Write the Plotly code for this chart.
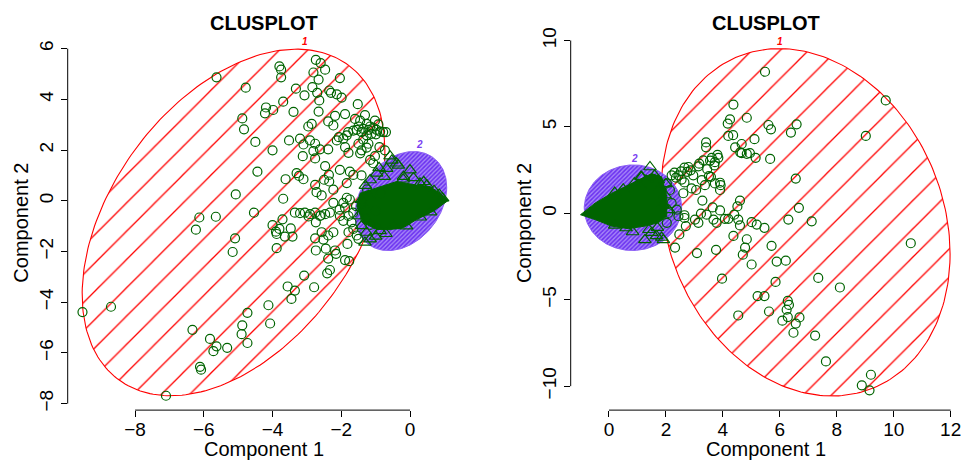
import numpy as np
import plotly.graph_objects as go

# ---------------- data: left panel ----------------
left_circle_x = [-5.63,-4.78,-3.80,-3.75,-3.75,-3.32,-2.74,-2.60,-2.47,-2.81,-2.66,-2.04,-3.07,-2.84,-2.70,-2.64,-2.35,-2.30,-2.13,-1.99,
                 -3.69,-3.39,-2.66,-4.19,-4.22,-3.98,-4.88,-4.83,-4.50,-4.00,-1.52,-2.38,-2.23,-2.18,-1.89,-2.96,-2.86,-3.52,-3.20,-3.10,
                 -2.91,-2.76,-2.81,-2.62,-2.38,-2.13,-2.07,-1.94,-1.84,-1.80,-1.65,-1.55,-1.60,-1.45,-1.31,-1.26,-1.16,-1.07,-0.97,-0.87,
                 -0.78,-0.70,-1.41,-1.26,-1.12,-0.99,-1.50,-1.36,-1.21,-1.02,-0.92,-0.73,-0.89,-1.02,-1.26,-1.45,-1.79,-1.89,-2.04,-1.75,
                 -1.65,-1.41,-1.84,-1.16,-1.07,-3.30,-3.23,-3.10,-4.44,-3.62,-2.47,-2.76,-3.12,-2.76,-2.72,-2.57,-2.50,-2.36,-2.35,-2.23,
                 -3.69,-5.07,-6.13,-6.23,-5.65,-4.54,-5.09,-5.16,-4.00,-3.90,-3.80,-3.88,-3.64,-3.47,-3.42,-3.88,-3.71,-3.35,-3.20,-3.06,
                 -2.91,-2.76,-2.62,-2.47,-2.33,-2.23,-2.74,-2.57,-2.38,-2.23,-2.76,-2.52,-2.74,-2.45,-2.18,-2.15,-2.38,-1.82,-1.89,-1.77,
                 -2.33,-2.41,-3.08,-3.56,-3.35,-3.45,-2.79,-4.12,-4.07,-4.73,-4.88,-4.90,-4.73,-6.33,-5.82,-5.63,-5.72,-5.32,-6.11,-6.08,
                 -7.10,-9.53,-8.70,-2.04,-1.94,-1.79,-1.70,-1.65,-1.79,-1.94,-1.84,-1.75,-1.89,-1.57,-1.65,-1.55,-1.50,-1.41,-1.21,-1.36,
                 -1.50,-2.95,-2.60,-2.05,-1.30,-1.15,-1.00,-0.85,-1.25,-1.40]
left_circle_y = [4.87,4.46,5.30,5.17,4.87,4.42,5.56,5.43,5.17,5.06,4.78,4.84,4.16,4.48,4.26,3.96,4.35,4.26,4.20,4.07,
                 3.91,3.51,3.52,3.68,3.45,3.58,3.25,2.82,2.32,1.99,3.81,3.13,2.97,3.35,3.42,2.93,3.03,2.38,2.45,2.22,
                 2.38,2.25,1.96,2.03,2.03,2.38,2.51,2.45,2.58,2.71,2.77,2.80,3.23,3.16,3.38,3.03,2.93,2.88,2.80,2.73,
                 2.71,2.71,2.71,2.58,2.64,2.62,2.93,2.84,2.80,3.16,3.01,1.99,2.12,1.76,2.10,1.87,1.89,2.12,1.22,1.15,
                 1.02,1.00,0.70,1.61,1.48,1.09,0.98,0.85,1.15,0.85,1.37,1.67,1.76,0.63,0.34,0.21,0.83,1.02,0.76,0.44,
                 0.08,0.25,-0.66,-1.14,-0.63,-0.47,-1.48,-2.02,-0.96,-1.22,-1.11,-1.31,-1.41,-1.09,-1.41,-1.87,-0.73,-0.47,-0.49,-0.47,
                 -0.53,-0.47,-0.60,-0.53,-0.47,-0.08,-0.85,-1.24,-1.37,-1.24,-1.48,-1.53,-1.96,-1.89,-1.96,-2.09,-2.28,-1.70,-2.34,-2.38,
                 -2.73,-2.86,-2.95,-3.38,-3.54,-3.87,-3.41,-4.12,-4.84,-4.42,-4.91,-5.26,-5.61,-5.09,-5.45,-5.74,-5.93,-5.80,-6.55,-6.66,
                 -7.69,-4.39,-4.18,-0.60,-0.79,-0.60,-0.85,-1.11,-1.24,-0.08,0.12,0.05,-0.27,-0.21,-0.47,-1.37,-1.50,1.99,2.25,2.41,
                 2.25,-0.62,-0.58,-0.35,-0.70,-0.95,-0.40,0.30,0.45,-0.10]

left_tri_x = [-0.53,-0.34,0.00,-0.68,-0.97,-1.16,-1.30,-1.41,-1.50,-1.41,-1.27,-1.16,-1.31,-0.87,-0.49,0.29,0.49,-0.19,-0.58,-0.39,
              0.10,0.70,0.85,0.60,0.30,-0.10,-0.70,-1.00,-1.20,-1.30,-0.90,-0.75,0.95,0.40,-0.20]
left_tri_y = [1.59,1.40,1.21,1.27,1.08,0.82,0.60,0.04,-0.60,-0.99,-1.25,-1.51,-1.64,-1.19,-0.99,0.69,0.62,0.95,1.76,1.48,
              0.90,0.40,0.25,-0.45,-0.65,-1.00,-1.30,-1.40,0.20,-0.30,1.30,0.95,0.10,0.75,0.85]

# dense mass of overlapping triangles (outline of the solid region)
left_core_x = [1.12,0.87,0.58,0.19,-0.39,-0.87,-1.16,-1.45,-1.55,-1.36,-0.97,-0.58,-0.19,0.19,0.68,1.12]
left_core_y = [0.02,0.30,0.56,0.62,0.76,0.56,0.43,0.30,-0.22,-0.87,-1.13,-1.13,-1.06,-0.74,-0.41,0.02]

# ---------------- data: right panel ----------------
right_circle_x = [5.48,9.72,4.37,4.25,4.17,4.84,5.60,5.69,6.59,6.39,9.02,4.19,4.36,5.11,4.66,4.43,4.61,4.66,4.84,4.95,
                  5.15,5.66,3.41,3.41,3.81,3.84,3.72,3.61,3.70,3.31,3.17,3.14,2.79,2.87,2.96,2.65,2.53,2.44,2.35,2.20,
                  2.65,2.61,3.06,3.28,3.51,3.58,3.90,3.92,3.90,6.56,4.60,4.51,6.67,3.64,3.90,3.23,3.43,2.65,2.65,3.02,
                  3.14,2.70,2.47,2.32,3.67,3.78,4.07,4.19,4.40,4.54,4.60,5.01,5.19,5.46,6.30,7.12,4.37,4.84,4.78,4.70,
                  3.76,3.09,5.71,5.89,6.21,5.01,5.85,3.97,7.35,8.11,10.60,5.22,5.46,4.54,5.62,6.28,6.32,6.24,6.28,6.09,
                  6.69,6.56,6.48,7.24,7.62,8.88,9.15,9.20,2.03,2.14,2.38,2.20,2.08,2.03,2.44,3.26,3.37,3.72,2.90,2.30,
                  2.55,2.75,3.45,3.55]
right_circle_y = [8.19,6.53,6.29,5.43,5.19,5.53,5.11,4.86,5.15,4.67,4.48,4.48,4.52,4.29,4.01,3.82,3.53,3.48,3.44,3.48,
                  3.21,3.15,4.10,3.82,3.38,3.21,2.96,3.21,2.77,3.06,2.87,2.72,2.68,2.49,2.20,2.64,2.43,2.20,2.07,2.20,
                  1.79,1.16,1.35,0.74,2.15,2.11,1.77,1.63,1.35,2.01,0.74,0.40,0.32,0.34,0.17,-0.02,-0.08,-0.11,-0.27,-0.36,
                  -0.55,-0.74,-1.22,-1.98,-0.36,-0.55,-0.32,-0.32,-0.08,-0.36,-0.70,-0.51,-0.65,-0.84,-0.36,-0.46,-1.31,-1.50,-1.98,-2.39,
                  -2.11,-2.30,-1.88,-2.79,-2.74,-2.96,-3.97,-3.78,-3.74,-4.29,-1.73,-4.79,-4.79,-5.91,-5.68,-5.07,-5.30,-5.58,-6.00,-6.21,
                  -6.02,-6.38,-6.91,-7.07,-8.57,-9.95,-10.24,-9.34,1.73,1.35,0.21,0.59,0.02,-0.55,-0.17,1.92,1.63,1.73,1.44,2.35,
                  1.95,2.40,2.55,3.05]

right_tri_x = [1.44,1.12,0.89,1.15,0.83,1.26,1.50,1.70,1.85,1.91,1.67,1.97,1.73,0.50,0.20,1.90,2.10,1.80,2.00,1.60,
               1.30,0.60,0.20,1.40,1.10]
right_tri_y = [2.68,2.12,1.74,2.11,-1.08,-1.54,-1.12,-0.83,-1.40,-1.54,-1.31,1.06,1.92,1.40,1.20,0.50,0.20,1.50,1.70,2.20,
               1.90,-0.85,-0.70,-0.95,1.60]

right_core_x = [-1.00,-0.49,0.09,0.68,1.15,1.50,1.85,2.03,2.03,1.73,1.26,0.68,0.09,-0.49,-1.00]
right_core_y = [-0.08,0.59,1.16,1.63,2.01,2.30,2.11,0.97,-0.17,-0.55,-0.74,-0.89,-0.74,-0.36,-0.08]

# ellipse parameters: centre x, centre y, var x, cov xy, var y
left_ell = {"1": (-5.135, -0.855, 19.40, 12.5, 46.72), "2": (-0.266, -0.01, 1.78, 0.72, 3.818)}
right_ell = {"1": (6.905, -0.52, 25.76, -9.3, 101.0), "2": (0.84, 0.325, 2.924, 0.05, 6.126)}
left_lab_pos = {"1": (-3.05, 6.28), "2": (0.27, 2.22)}
right_lab_pos = {"1": (6.0, 9.94), "2": (0.91, 3.2)}

x_ticks_left = [-8, -6, -4, -2, 0]
y_ticks_left = [-8, -6, -4, -2, 0, 2, 4, 6]
x_ticks_right = [0, 2, 4, 6, 8, 10, 12]
y_ticks_right = [-10, -5, 0, 5, 10]

# ---------------- figure ----------------
W, H = 965, 464
GREEN = "#006400"
RED = "#FF0000"
PURPLE = "#7B3FF2"
FONT = "Liberation Sans, Arial, sans-serif"


def ellipse(cx, cy, sxx, sxy, syy, n=240):
    t = np.linspace(0, 2 * np.pi, n)
    a11 = np.sqrt(sxx)
    a21 = sxy / a11
    a22 = np.sqrt(syy - a21 ** 2)
    return cx + a11 * np.cos(t), cy + a21 * np.cos(t) + a22 * np.sin(t)


fig = go.Figure()

panels = [
    dict(xa="x", ya="y", ell=left_ell, cx=left_circle_x, cy=left_circle_y, tx=left_tri_x, ty=left_tri_y,
         kx=left_core_x, ky=left_core_y, lab=left_lab_pos),
    dict(xa="x2", ya="y2", ell=right_ell, cx=right_circle_x, cy=right_circle_y, tx=right_tri_x, ty=right_tri_y,
         kx=right_core_x, ky=right_core_y, lab=right_lab_pos),
]

for p in panels:
    ex, ey = ellipse(*p["ell"]["1"])
    fig.add_trace(go.Scatter(x=ex, y=ey, mode="lines", xaxis=p["xa"], yaxis=p["ya"],
                             line=dict(color=RED, width=1.1), fill="toself",
                             fillcolor="rgba(0,0,0,0)",
                             fillpattern=dict(shape="/", fgcolor=RED, bgcolor="rgba(0,0,0,0)",
                                              size=20, solidity=0.065, fillmode="replace"),
                             hoverinfo="skip", showlegend=False))
    ex, ey = ellipse(*p["ell"]["2"])
    fig.add_trace(go.Scatter(x=ex, y=ey, mode="lines", xaxis=p["xa"], yaxis=p["ya"],
                             line=dict(color="#8a5cf5", width=1), fill="toself",
                             fillcolor="#8a5cf5",
                             fillpattern=dict(shape="/", fgcolor="#6a2ff0", bgcolor="#a585f8",
                                              size=3, solidity=0.5, fillmode="replace"),
                             hoverinfo="skip", showlegend=False))
    fig.add_trace(go.Scatter(x=p["kx"], y=p["ky"], mode="lines", xaxis=p["xa"], yaxis=p["ya"],
                             line=dict(color=GREEN, width=1), fill="toself", fillcolor=GREEN,
                             hoverinfo="skip", showlegend=False))
    fig.add_trace(go.Scatter(x=p["tx"], y=p["ty"], mode="markers", xaxis=p["xa"], yaxis=p["ya"],
                             marker=dict(symbol="triangle-up-open", size=11, color=GREEN, line=dict(width=1.2)),
                             hoverinfo="skip", showlegend=False))
    fig.add_trace(go.Scatter(x=p["cx"], y=p["cy"], mode="markers", xaxis=p["xa"], yaxis=p["ya"],
                             marker=dict(symbol="circle-open", size=9, color=GREEN, line=dict(width=1.2)),
                             hoverinfo="skip", showlegend=False))
    for k, col in (("1", RED), ("2", PURPLE)):
        lx, ly = p["lab"][k]
        fig.add_annotation(x=lx, y=ly, xref=p["xa"], yref=p["ya"], text="<b><i>" + k + "</i></b>",
                           xanchor="center", yanchor="middle",
                           showarrow=False, font=dict(family=FONT, size=10, color=col))


def px_x(v):
    return v / W


def px_y(v):
    return 1 - v / H


axis_common = dict(showgrid=False, zeroline=False, showline=False, ticks="outside", ticklen=6,
                   tickwidth=1, tickcolor="black", tickfont=dict(family=FONT, size=19, color="black"))

fig.update_layout(
    width=W, height=H, margin=dict(l=0, r=0, t=0, b=0),
    paper_bgcolor="white", plot_bgcolor="white",
    xaxis=dict(domain=[px_x(67.7), px_x(459.7)], range=[-9.96, 1.446], tickvals=x_ticks_left,
               ticktext=[str(v).replace("-", "\u2212") for v in x_ticks_left], anchor="y",
               ticklabelstandoff=-4, **axis_common),
    yaxis=dict(domain=[px_y(410.3), px_y(30)], range=[-8.256, 6.517], tickvals=y_ticks_left,
               ticktext=[str(v).replace("-", "\u2212") for v in y_ticks_left], tickangle=-90, anchor="x", **axis_common),
    xaxis2=dict(domain=[px_x(570.7), px_x(962)], range=[-1.345, 12.399], tickvals=x_ticks_right,
                ticktext=[str(v).replace("-", "\u2212") for v in x_ticks_right], anchor="y2",
                ticklabelstandoff=-4, **axis_common),
    yaxis2=dict(domain=[px_y(410.3), px_y(28)], range=[-11.385, 10.399], tickvals=y_ticks_right,
                ticktext=[str(v).replace("-", "\u2212") for v in y_ticks_right], tickangle=-90, anchor="x2", **axis_common),
)

shapes = []
for xa, ya, xt, yt in (("x", "y", x_ticks_left, y_ticks_left), ("x2", "y2", x_ticks_right, y_ticks_right)):
    shapes.append(dict(type="line", xref=xa, yref=ya + " domain", x0=min(xt), x1=max(xt), y0=0, y1=0,
                       line=dict(color="black", width=1)))
    shapes.append(dict(type="line", xref=xa + " domain", yref=ya, x0=0, x1=0, y0=min(yt), y1=max(yt),
                       line=dict(color="black", width=1)))
fig.update_layout(shapes=shapes)

# titles and axis labels
for cxp, ylab_x in ((263.7, 21), (766.3, 523.3)):
    fig.add_annotation(x=px_x(cxp), y=px_y(17), xref="paper", yref="paper", text="<b>CLUSPLOT</b>",
                       xanchor="center", yanchor="middle",
                       showarrow=False, font=dict(family=FONT, size=20, color="black"))
    fig.add_annotation(x=px_x(cxp), y=px_y(450), xref="paper", yref="paper", text="Component 1",
                       xanchor="center", yanchor="middle",
                       showarrow=False, font=dict(family=FONT, size=20, color="black"))
    fig.add_annotation(x=px_x(ylab_x), y=px_y(220), xref="paper", yref="paper", text="Component 2",
                       xanchor="center", yanchor="middle",
                       textangle=-90, showarrow=False, font=dict(family=FONT, size=20, color="black"))

fig.write_html("out.html", config={"displayModeBar": False},
               post_script="document.body.style.margin='0';document.body.style.overflow='hidden';")
